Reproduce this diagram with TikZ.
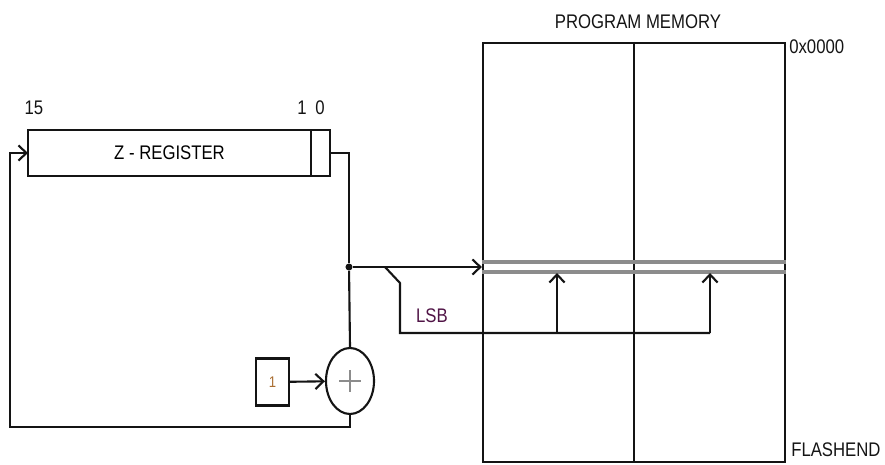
\documentclass[tikz,border=0pt]{standalone}
\usepackage{fontspec}
\setmainfont{Liberation Sans}[FakeStretch=0.85]
\usepackage{tikz}
\usetikzlibrary{shapes.geometric, arrows.meta, positioning, calc}
\definecolor{mydark}{RGB}{20,20,20}
\definecolor{slotgray}{RGB}{140,140,140}
\definecolor{lsbcol}{RGB}{80,20,70}
\definecolor{onecol}{RGB}{170,110,50}
\tikzset{
  regbox/.style={rectangle, draw=mydark, line width=1.5pt, inner sep=0pt, outer sep=0pt,
    minimum width=7.075cm, minimum height=1.15cm, font=\fontsize{14}{16}\selectfont},
  bitbox/.style={rectangle, draw=mydark, line width=1.5pt, inner sep=0pt, outer sep=0pt,
    minimum width=0.475cm, minimum height=1.15cm},
  membox/.style={rectangle, draw=mydark, line width=1.5pt, inner sep=0pt,
    minimum width=7.55cm, minimum height=10.475cm},
  adderstyle/.style={ellipse, draw=mydark, line width=1.5pt, inner sep=0pt,
    minimum width=1.2cm, minimum height=1.65cm},
  onebox/.style={rectangle, draw=mydark, line width=1.5pt, inner sep=0pt,
    minimum width=0.825cm, minimum height=1.175cm, text=onecol,
    font=\fontsize{11}{13}\selectfont},
  lbl/.style={font=\fontsize{14}{16}\selectfont, text=mydark, inner sep=0pt},
  dot/.style={circle, fill=mydark, inner sep=0pt, minimum size=5pt},
  arrow/.style={-{Straight Barb[length=2mm,width=3.8mm]}, line width=1.5pt, color=mydark},
  line/.style={line width=1.5pt, color=mydark},
  slot/.style={line width=2.2pt, color=slotgray}
}
\begin{document}
\begin{tikzpicture}[x=0.025cm, y=-0.025cm]
  \useasboundingbox (0,0) rectangle (885,465);

  % Nodes
  \node[regbox] (reg) at (169.5,153) {Z - REGISTER};
  \node[bitbox, right=0pt of reg] (bit0) {};
  \node[membox] (mem) at (634,252.5) {};
  \node[adderstyle] (adder) at (350,381) {};
  \node[onebox] (one) at (272.5,382) {1};
  \node[dot] (jn) at (349,267) {};

  % Labels
  \node[lbl] (b15) at (34,108) {15};
  \node[lbl] (b1) at (302,108) {1};
  \node[lbl] (b0) at (320,108) {0};
  \node[lbl] (title) at (638,22) {PROGRAM MEMORY};
  \node[lbl, anchor=west] (top) at (789,47) {0x0000};
  \node[lbl, anchor=west] (bot) at (791,450) {FLASHEND};
  \node[lbl, text=lsbcol] (lsb) at (432,316) {LSB};

  % Coordinates
  \coordinate (loop) at (10,427);
  \coordinate (tap) at (385,267);
  \coordinate (bend) at (400,283);
  \coordinate (lsbend) at (710,333);
  \coordinate (cellA) at (557,273);
  \coordinate (cellB) at (710,273);

  % Memory columns
  \draw[line] (mem.north) -- (mem.south);
  \draw[slot] (mem.west |- 0,262) -- (mem.east |- 0,262);
  \draw[slot] (mem.west |- 0,272) -- (mem.east |- 0,272);

  % Plus sign
  \draw[slotgray, line width=1pt] ([xshift=-0.27cm]adder.center) -- ([xshift=0.27cm]adder.center);
  \draw[slotgray, line width=1pt] ([yshift=-0.27cm]adder.center) -- ([yshift=0.27cm]adder.center);

  % Arrows
  \draw[line] (bit0.east) -| (jn);
  \draw[line] (jn) -- (adder.north);
  \draw[arrow] (jn) -- (jn -| mem.west);
  \draw[arrow] (one) -- (adder);
  \draw[arrow] (adder.south) |- (loop) |- (reg.west);
  \draw[line] (tap) -- (bend) |- (lsbend);
  \draw[arrow] (cellA |- lsbend) -- (cellA);
  \draw[arrow] (lsbend) -- (cellB);
\end{tikzpicture}
\end{document}
